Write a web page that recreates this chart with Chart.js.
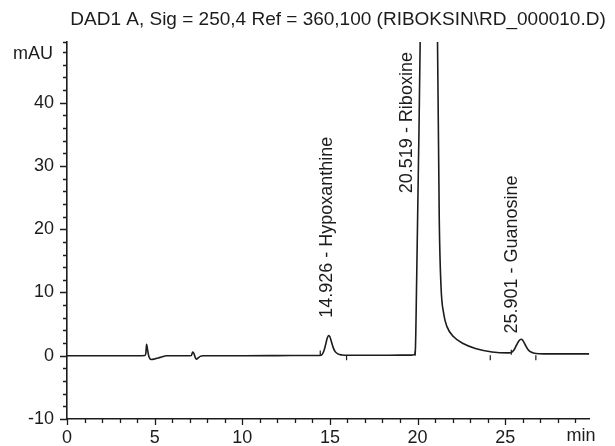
<!DOCTYPE html>
<html>
<head>
<meta charset="utf-8">
<script src="https://cdn.jsdelivr.net/npm/chart.js@4"></script>
<style>
  html, body { margin: 0; padding: 0; background: #ffffff; }
  #wrap { width: 615px; height: 446px; position: relative; }
</style>
</head>
<body>
<div id="wrap"><canvas id="c" width="615" height="446"></canvas></div>
<script>
// ---- Data ----
const titleText = 'DAD1 A, Sig = 250,4 Ref = 360,100 (RIBOKSIN\\RD_000010.D)';
const yUnit = 'mAU';
const xUnit = 'min';

// retention time (min)
const times = [0, 1, 2, 3, 4, 4.45, 4.5, 4.54, 4.6, 4.68, 4.82, 5.0, 5.2, 5.4, 5.68, 6.2, 6.8,
  7.1, 7.17, 7.25, 7.32, 7.39, 7.5, 7.6, 7.76, 8.5, 10, 12, 14,
  14.43, 14.55, 14.65, 14.75, 14.85, 14.93, 15.0, 15.1, 15.2, 15.3, 15.45, 15.7, 16,
  17, 18, 19, 19.6, 19.8, 19.87, 19.95, 20.05, 20.15, 20.3, 20.52, 20.8, 21.0, 21.14,
  21.24, 21.34, 21.49, 21.68, 22.06, 22.63, 23.3, 24.25, 25.2,
  25.35, 25.5, 25.65, 25.8, 25.91, 26.0, 26.15, 26.3, 26.5, 26.75, 27.2, 28, 29, 29.8];
// detector signal (mAU)
const signal = [0, 0, 0, 0, 0, 0.05, 0.4, 1.8, 0.9, -0.2, -0.6, -0.5, -0.35, -0.2, 0, 0, 0,
  0.05, 0.6, 0.3, -0.3, -0.55, -0.3, -0.1, 0, 0, 0, 0.02, 0.05,
  0.05, 0.2, 0.7, 1.7, 2.8, 3.2, 3.0, 2.1, 1.2, 0.65, 0.3, 0.12, 0.07,
  0.07, 0.08, 0.1, 0.1, 0.15, 0.6, 12, 30, 49.6, 110, 250, 200, 110, 49.6,
  21.4, 10.9, 6.7, 4.6, 3.0, 1.9, 1.15, 0.6, 0.45,
  0.5, 0.9, 1.7, 2.4, 2.6, 2.45, 1.7, 1.0, 0.55, 0.35, 0.3, 0.3, 0.3, 0.3];

// integration baseline markers
const markerTimes = [14.45, 15.95, 19.87, 24.15, 25.35, 26.75];
const markerValues = [0.45, -0.3, 0.4, -0.3, 0.55, -0.3];

// peak annotations
const peakNames = ['14.926 - Hypoxanthine', '20.519 - Riboxine', '25.901 - Guanosine'];
const peakLabelTimes = [14.86, 19.42, 25.41];
const peakLabelValues = [6.0, 25.7, 3.5];

// axes
const xMin = 0, xMax = 29.8;
const yMin = -10, yMax = 49.6;
const xMajorStep = 5, xMinorStep = 1;
const yMajorStep = 10, yMinorStep = 2;

const FONT = '"Liberation Sans", Arial, sans-serif';
const INK = '#1c1c1c';

const points = times.map((t, i) => ({ x: t, y: signal[i] }));
const markers = markerTimes.map((t, i) => ({ x: t, y: markerValues[i] }));

const decor = {
  id: 'decor',
  afterDraw(chart) {
    const { ctx, chartArea: a, scales: { x, y } } = chart;
    ctx.save();
    ctx.strokeStyle = INK;
    ctx.fillStyle = INK;
    ctx.lineWidth = 1.3;
    // x ticks
    ctx.beginPath();
    for (let t = xMin; t <= xMax + 1e-9; t += xMinorStep) {
      const px = Math.round(x.getPixelForValue(t)) + 0.5;
      const len = (Math.abs(t % xMajorStep) < 1e-9) ? 6 : 4;
      ctx.moveTo(px, a.bottom);
      ctx.lineTo(px, a.bottom + len);
    }
    // y ticks
    const yv = [];
    for (let v = yMin; v <= yMax + 1e-9; v += yMinorStep) yv.push(v);
    if (yv[yv.length - 1] !== yMax) yv.push(yMax);
    yv.forEach(v => {
      const py = Math.round(y.getPixelForValue(v)) + 0.5;
      const len = (Math.abs(v % yMajorStep) < 1e-9) ? 7 : 4;
      ctx.moveTo(a.left - len, py);
      ctx.lineTo(a.left, py);
    });
    ctx.stroke();

    // title
    ctx.font = '19px ' + FONT;
    ctx.textAlign = 'center';
    ctx.textBaseline = 'middle';
    ctx.fillText(titleText, 338, 20);

    // axis units
    ctx.font = '18px ' + FONT;
    ctx.textAlign = 'right';
    ctx.fillText(yUnit, 53, 54);
    ctx.textAlign = 'center';
    ctx.fillText(xUnit, 581, 436);

    // peak labels (rotated)
    ctx.font = '18px ' + FONT;
    peakNames.forEach((name, i) => {
      const px = x.getPixelForValue(peakLabelTimes[i]);
      const py = y.getPixelForValue(peakLabelValues[i]);
      ctx.save();
      ctx.translate(px, py);
      ctx.rotate(-Math.PI / 2);
      ctx.textAlign = 'left';
      ctx.textBaseline = 'middle';
      ctx.fillText(name, 0, 0);
      ctx.restore();
    });
    ctx.restore();
  }
};

new Chart(document.getElementById('c'), {
  type: 'line',
  data: {
    datasets: [
      {
        data: points,
        borderColor: INK,
        borderWidth: 1.6,
        pointRadius: 0,
        fill: false,
        cubicInterpolationMode: 'monotone'
      },
      {
        type: 'scatter',
        data: markers,
        pointStyle: 'line',
        rotation: 90,
        radius: 2.5,
        borderColor: INK,
        borderWidth: 1.2,
        showLine: false
      }
    ]
  },
  options: {
    responsive: false,
    animation: false,
    events: [],
    layout: { padding: { left: 0, right: 25.7, top: 42, bottom: 0 } },
    plugins: { legend: { display: false }, tooltip: { enabled: false }, title: { display: false } },
    scales: {
      x: {
        type: 'linear',
        min: xMin, max: xMax,
        grid: { display: false, drawTicks: false },
        border: { display: true, color: INK, width: 1.6 },
        ticks: {
          stepSize: xMinorStep,
          autoSkip: false,
          maxRotation: 0,
          padding: 8,
          color: INK,
          font: { family: FONT, size: 18 },
          callback: v => (Math.abs(v % xMajorStep) < 1e-9 ? String(v) : '')
        },
        afterFit: s => { s.height = 27; }
      },
      y: {
        type: 'linear',
        min: yMin, max: yMax,
        grid: { display: false, drawTicks: false },
        border: { display: true, color: INK, width: 1.6 },
        ticks: {
          stepSize: yMinorStep,
          autoSkip: false,
          padding: 13,
          color: INK,
          font: { family: FONT, size: 18 },
          callback: v => (Math.abs(v % yMajorStep) < 1e-9 ? String(v) : '')
        },
        afterFit: s => { s.width = 67; }
      }
    }
  },
  plugins: [decor]
});
</script>
</body>
</html>
